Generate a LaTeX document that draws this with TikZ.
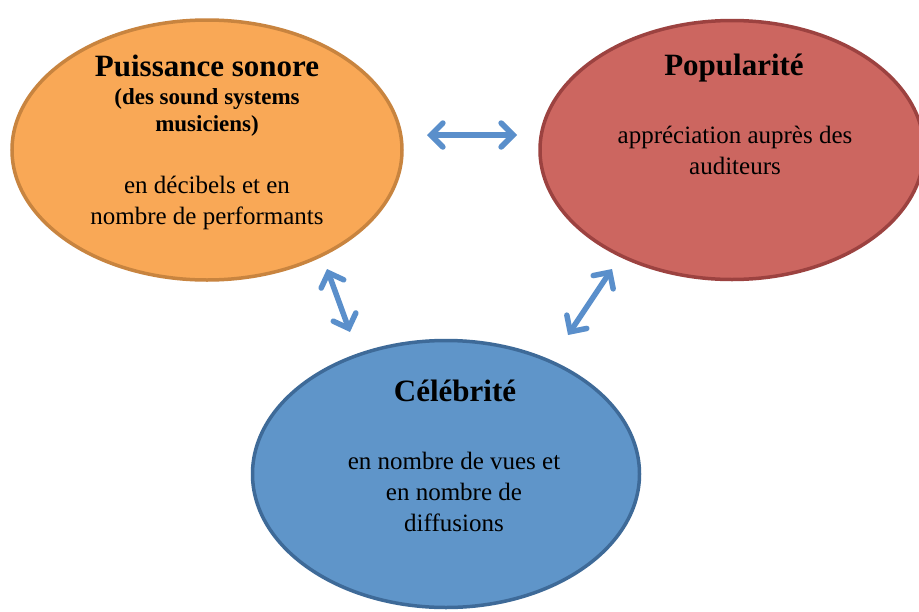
\documentclass[tikz,border=0pt]{standalone}
\usepackage{fontspec}
\setmainfont{Liberation Serif}
\usetikzlibrary{arrows.meta,shapes.geometric}
\definecolor{orfill}{HTML}{F9A856}
\definecolor{ordraw}{HTML}{C8843F}
\definecolor{rdfill}{HTML}{CC6660}
\definecolor{rddraw}{HTML}{9C4240}
\definecolor{blfill}{HTML}{5F95C9}
\definecolor{bldraw}{HTML}{3E6A98}
\definecolor{arcol}{HTML}{5A8FCB}
\tikzset{
  bubble/.style={ellipse, line width=3.5pt, inner sep=0pt},
  title/.style={font=\fontsize{31}{34}\selectfont\bfseries, align=center},
  subtitle/.style={font=\fontsize{23}{27}\selectfont\bfseries, align=center},
  body/.style={font=\fontsize{25}{31}\selectfont, align=center},
  link/.style={draw=arcol, line width=5.5pt,
    {Straight Barb[length=12pt,width=24pt,line cap=round]}-{Straight Barb[length=12pt,width=24pt,line cap=round]}}
}
\begin{document}
\begin{tikzpicture}[x=1pt,y=-1pt]
\useasboundingbox (0,0) rectangle (919,611);
\fill[white] (0,0) rectangle (919,611);
% ellipses
\node[bubble, draw=ordraw, fill=orfill, minimum width=390pt, minimum height=260pt] (puis) at (207,150) {};
\node[bubble, draw=rddraw, fill=rdfill, minimum width=384pt, minimum height=259pt] (pop) at (732,150) {};
\node[bubble, draw=bldraw, fill=blfill, minimum width=387pt, minimum height=267pt] (cel) at (446,474) {};
% texts
\node[title] (puisT) at (207,66) {Puissance sonore};
\node[subtitle] (puisS) at (207,112) {(des sound systems\\musiciens)};
\node[body] (puisB) at (207,203) {en décibels et en\\nombre de performants};
\node[title] (popT) at (734,68) {Popularité};
\node[body] (popB) at (735,150) {appréciation auprès des\\auditeurs};
\node[title] (celT) at (455,391) {Célébrité};
\node[body] (celB) at (454,492) {en nombre de vues et\\en nombre de\\diffusions};
% arrow ends
\coordinate (a1) at (427,135);
\coordinate (a2) at (517,135);
\coordinate (b1) at (327,269);
\coordinate (b2) at (350,332);
\coordinate (c1) at (612,269);
\coordinate (c2) at (568,335);
\draw[link] (a1) -- (a2);
\draw[link] (b1) -- (b2);
\draw[link] (c1) -- (c2);
\end{tikzpicture}
\end{document}
